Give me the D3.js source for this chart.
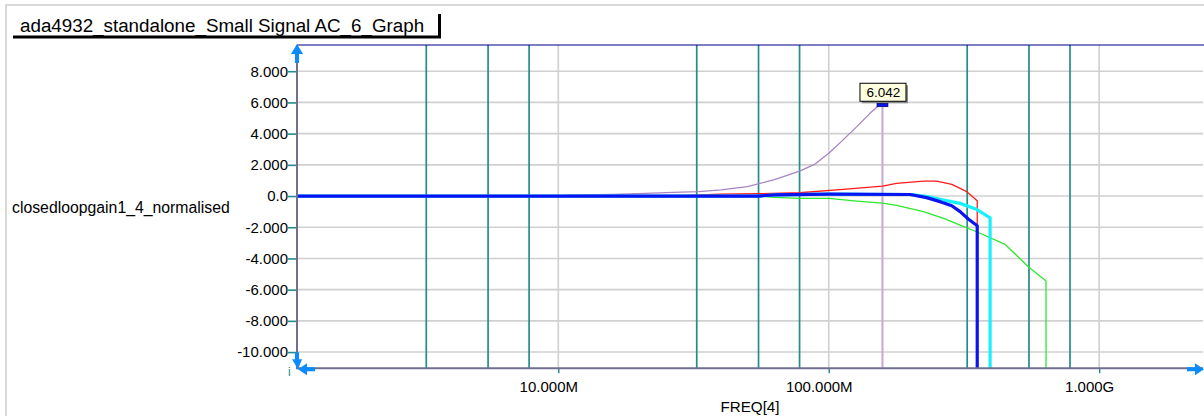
<!DOCTYPE html>
<html>
<head>
<meta charset="utf-8">
<script src="https://cdn.jsdelivr.net/npm/d3@7"></script>
<style>
    html, body { margin: 0; padding: 0; background: #fff; }
    svg { display: block; font-family: "Liberation Sans", Arial, sans-serif; }
</style>
</head>
<body>
<div id="chart"></div>
<script>
var chartTitle = 'ada4932_standalone_Small Signal AC_6_Graph';
var yLabel = 'closedloopgain1_4_normalised';
var xLabel = 'FREQ[4]';

var yTicks = [8, 6, 4, 2, 0, -2, -4, -6, -8, -10];
var yTickLabels = ['8.000', '6.000', '4.000', '2.000', '0.0', '-2.000', '-4.000', '-6.000', '-8.000', '-10.000'];
var xTicks = [1e7, 1e8, 1e9];
var xTickLabels = ['10.000M', '100.000M', '1.000G'];
var cursorFreqs = [3.25e6, 5.5e6, 7.8e6, 3.25e7, 5.5e7, 7.8e7, 3.25e8, 5.5e8, 7.8e8];

// -40 marks where a trace falls off the bottom of the plot
var purpleFreq = [1.08e6, 10e6, 11e6, 16e6, 21e6, 26.5e6, 33e6, 40e6, 50e6, 63e6, 78e6, 89e6, 100e6, 113e6, 127e6, 142e6, 152e6, 158e6];
var purpleGain = [0, 0, 0.05, 0.1, 0.17, 0.24, 0.28, 0.4, 0.6, 1.05, 1.6, 2.05, 2.74, 3.6, 4.45, 5.3, 5.75, 6.042];

var greenFreq = [1.08e6, 55e6, 63e6, 78e6, 100e6, 127e6, 158e6, 178e6, 224e6, 266e6, 306e6, 352e6, 449e6, 547e6, 636e6, 636e6];
var greenGain = [0, 0, -0.09, -0.15, -0.15, -0.32, -0.45, -0.6, -1.0, -1.43, -1.86, -2.29, -3.1, -4.53, -5.45, -40];

var redFreq = [1.08e6, 30e6, 40e6, 55e6, 78e6, 113e6, 158e6, 178e6, 224e6, 251e6, 285e6, 324e6, 354e6, 354e6];
var redGain = [0, 0.04, 0.12, 0.15, 0.21, 0.43, 0.64, 0.81, 0.96, 0.96, 0.75, 0.28, -0.3, -40];

var cyanFreq = [1.08e6, 55e6, 63e6, 100e6, 200e6, 230e6, 266e6, 306e6, 352e6, 395e6, 395e6];
var cyanGain = [0, 0, 0.08, 0.12, 0.1, -0.02, -0.26, -0.47, -0.85, -1.4, -40];

var blueFreq = [1.08e6, 55e6, 63e6, 100e6, 200e6, 230e6, 258e6, 285e6, 306e6, 328e6, 354e6, 354e6];
var blueGain = [0, 0, 0.08, 0.12, 0.1, -0.1, -0.36, -0.62, -1.0, -1.47, -1.9, -40];

(function () {
    'use strict';

    var width = 1204;
    var height = 416;
    var plot = { left: 297, right: 1203, top: 45, bottom: 368.3 };
    var teal = '#238c8c';
    var arrowBlue = '#0a8cff';

    var series = [
        { f: purpleFreq, v: purpleGain, color: '#a884c4', width: 1.3 },
        { f: greenFreq, v: greenGain, color: '#2ee82e', width: 1.3 },
        { f: redFreq, v: redGain, color: '#ff1a1a', width: 1.3 },
        { f: cyanFreq, v: cyanGain, color: '#19f0ff', width: 3.2 },
        { f: blueFreq, v: blueGain, color: '#0a14f0', width: 3.2 }
    ];

    var x = d3.scaleLog().domain([1.081e6, 2.42e9]).range([plot.left, plot.right]);
    var y = d3.scaleLinear().domain([-11.04, 9.68]).range([plot.bottom, plot.top]);

    var svg = d3.select('#chart').append('svg')
        .attr('width', width)
        .attr('height', height);

    // outer frame
    svg.append('path')
        .attr('d', 'M6,' + height + 'V5H' + width)
        .attr('fill', 'none')
        .attr('stroke', '#cdcdcd')
        .attr('stroke-width', 1.5);

    // title tab
    svg.append('text')
        .attr('x', 20).attr('y', 31.7)
        .attr('font-size', 18.8)
        .attr('fill', '#000')
        .text(chartTitle);
    svg.append('path')
        .attr('d', 'M13,37H441M439.5,14V38.5')
        .attr('stroke', '#000')
        .attr('stroke-width', 3)
        .attr('fill', 'none');

    svg.append('defs').append('clipPath').attr('id', 'plot-clip')
        .append('rect')
        .attr('x', plot.left).attr('y', plot.top)
        .attr('width', plot.right - plot.left)
        .attr('height', plot.bottom - plot.top);

    var grid = svg.append('g');
    grid.selectAll('line.h').data(yTicks).join('line')
        .attr('class', 'h')
        .attr('x1', plot.left).attr('x2', plot.right)
        .attr('y1', function (d) { return y(d); })
        .attr('y2', function (d) { return y(d); })
        .attr('stroke', '#d0d0d0')
        .attr('stroke-width', 1.6);
    grid.selectAll('line.v').data(xTicks).join('line')
        .attr('class', 'v')
        .attr('x1', function (d) { return x(d); })
        .attr('x2', function (d) { return x(d); })
        .attr('y1', plot.top).attr('y2', plot.bottom)
        .attr('stroke', '#d0d0d0')
        .attr('stroke-width', 1.6);
    grid.selectAll('line.c').data(cursorFreqs).join('line')
        .attr('class', 'c')
        .attr('x1', function (d) { return x(d); })
        .attr('x2', function (d) { return x(d); })
        .attr('y1', plot.top).attr('y2', plot.bottom)
        .attr('stroke', teal)
        .attr('stroke-width', 1.7);

    // marker line at the peak of the purple trace
    var peakIdx = d3.maxIndex(purpleGain);
    var px = x(purpleFreq[peakIdx]);
    var py = y(purpleGain[peakIdx]);
    svg.append('line')
        .attr('x1', px).attr('x2', px)
        .attr('y1', py).attr('y2', plot.bottom)
        .attr('stroke', '#c4a8d6')
        .attr('stroke-width', 2);

    var line = d3.line()
        .x(function (d) { return x(d[0]); })
        .y(function (d) { return y(d[1]); });

    svg.append('g').attr('clip-path', 'url(#plot-clip)')
        .selectAll('path').data(series).join('path')
        .attr('d', function (s) { return line(d3.zip(s.f, s.v)); })
        .attr('fill', 'none')
        .attr('stroke', function (s) { return s.color; })
        .attr('stroke-width', function (s) { return s.width; })
        .attr('stroke-linejoin', 'round');

    // axes
    var yAxis = d3.axisLeft(y)
        .tickValues(yTicks)
        .tickSize(9)
        .tickPadding(0)
        .tickFormat(function (d, i) { return yTickLabels[i]; });
    var gy = svg.append('g')
        .attr('transform', 'translate(' + plot.left + ',0)')
        .call(yAxis);
    gy.select('.domain').remove();
    gy.selectAll('line').attr('stroke', teal).attr('stroke-width', 1.6);
    gy.selectAll('text').attr('font-size', 15).attr('fill', '#000')
        .attr('font-family', '"Liberation Sans", Arial, sans-serif');

    var xAxis = d3.axisBottom(x)
        .tickValues(xTicks)
        .tickSize(5)
        .tickPadding(8)
        .tickFormat(function (d, i) { return xTickLabels[i]; });
    var gx = svg.append('g')
        .attr('transform', 'translate(0,' + plot.bottom + ')')
        .call(xAxis);
    gx.select('.domain').remove();
    gx.selectAll('line').attr('stroke', teal).attr('stroke-width', 1.4);
    gx.selectAll('text').attr('font-size', 15).attr('fill', '#000')
        .attr('dx', -10)
        .attr('font-family', '"Liberation Sans", Arial, sans-serif');

    svg.append('path')
        .attr('d', 'M' + plot.left + ',' + plot.top + 'V' + plot.bottom + 'H' + plot.right)
        .attr('fill', 'none')
        .attr('stroke', '#70708e')
        .attr('stroke-width', 2);
    svg.append('line')
        .attr('x1', plot.left).attr('x2', width)
        .attr('y1', plot.top).attr('y2', plot.top)
        .attr('stroke', '#000080')
        .attr('stroke-width', 1.2);

    // axis arrows
    var L = plot.left, B = plot.bottom, T = plot.top, R = plot.right;
    var arrows = [
        'M' + L + ',' + (T - 1) + 'L' + (L - 6) + ',' + (T + 9) + 'H' + (L - 2) + 'V' + (T + 18) + 'H' + (L + 2) + 'V' + (T + 9) + 'H' + (L + 6) + 'Z',
        'M' + (L - 2) + ',' + (B - 16) + 'H' + (L + 2) + 'V' + (B - 9) + 'H' + (L + 5) + 'L' + (L + 1) + ',' + (B + 1) + 'L' + (L - 5) + ',' + (B - 9) + 'H' + (L - 2) + 'Z',
        'M' + (L + 1) + ',' + (B + 1) + 'L' + (L + 10) + ',' + (B - 5) + 'V' + (B - 1) + 'H' + (L + 18) + 'V' + (B + 3) + 'H' + (L + 10) + 'V' + (B + 7) + 'Z',
        'M' + (R + 1) + ',' + (B + 1) + 'L' + (R - 8) + ',' + (B - 5) + 'V' + (B - 1) + 'H' + (R - 16) + 'V' + (B + 3) + 'H' + (R - 8) + 'V' + (B + 7) + 'Z'
    ];
    svg.selectAll('path.arrow').data(arrows).join('path')
        .attr('class', 'arrow')
        .attr('d', function (d) { return d; })
        .attr('fill', arrowBlue);

    svg.append('text')
        .attr('x', 288).attr('y', 376)
        .attr('font-size', 12)
        .attr('fill', teal)
        .text('i');

    // axis titles
    svg.append('text')
        .attr('x', 12).attr('y', 213.3)
        .attr('font-size', 15.8)
        .attr('fill', '#000')
        .text(yLabel);
    svg.append('text')
        .attr('x', (plot.left + plot.right) / 2).attr('y', 412)
        .attr('text-anchor', 'middle')
        .attr('font-size', 15.2)
        .attr('fill', '#000')
        .text(xLabel);

    // peak readout
    var boxX = px - 22.5;
    var boxY = py - 18.5;
    var mark = svg.append('g');
    mark.append('rect')
        .attr('x', boxX + 2).attr('y', boxY + 2)
        .attr('width', 46).attr('height', 18)
        .attr('fill', '#8a8a8a');
    mark.append('rect')
        .attr('x', boxX).attr('y', boxY)
        .attr('width', 46).attr('height', 18)
        .attr('fill', '#ffffe1')
        .attr('stroke', '#000')
        .attr('stroke-width', 1);
    mark.append('text')
        .attr('x', px + 1).attr('y', py - 4.5)
        .attr('text-anchor', 'middle')
        .attr('font-size', 13.5)
        .attr('fill', '#000')
        .text(d3.format('.3f')(purpleGain[peakIdx]));
    mark.append('rect')
        .attr('x', px - 5.5).attr('y', py + 1.5)
        .attr('width', 11).attr('height', 3.5)
        .attr('fill', '#0a14f0')
        .attr('stroke', '#00004a')
        .attr('stroke-width', 0.6);
})();
</script>
</body>
</html>
